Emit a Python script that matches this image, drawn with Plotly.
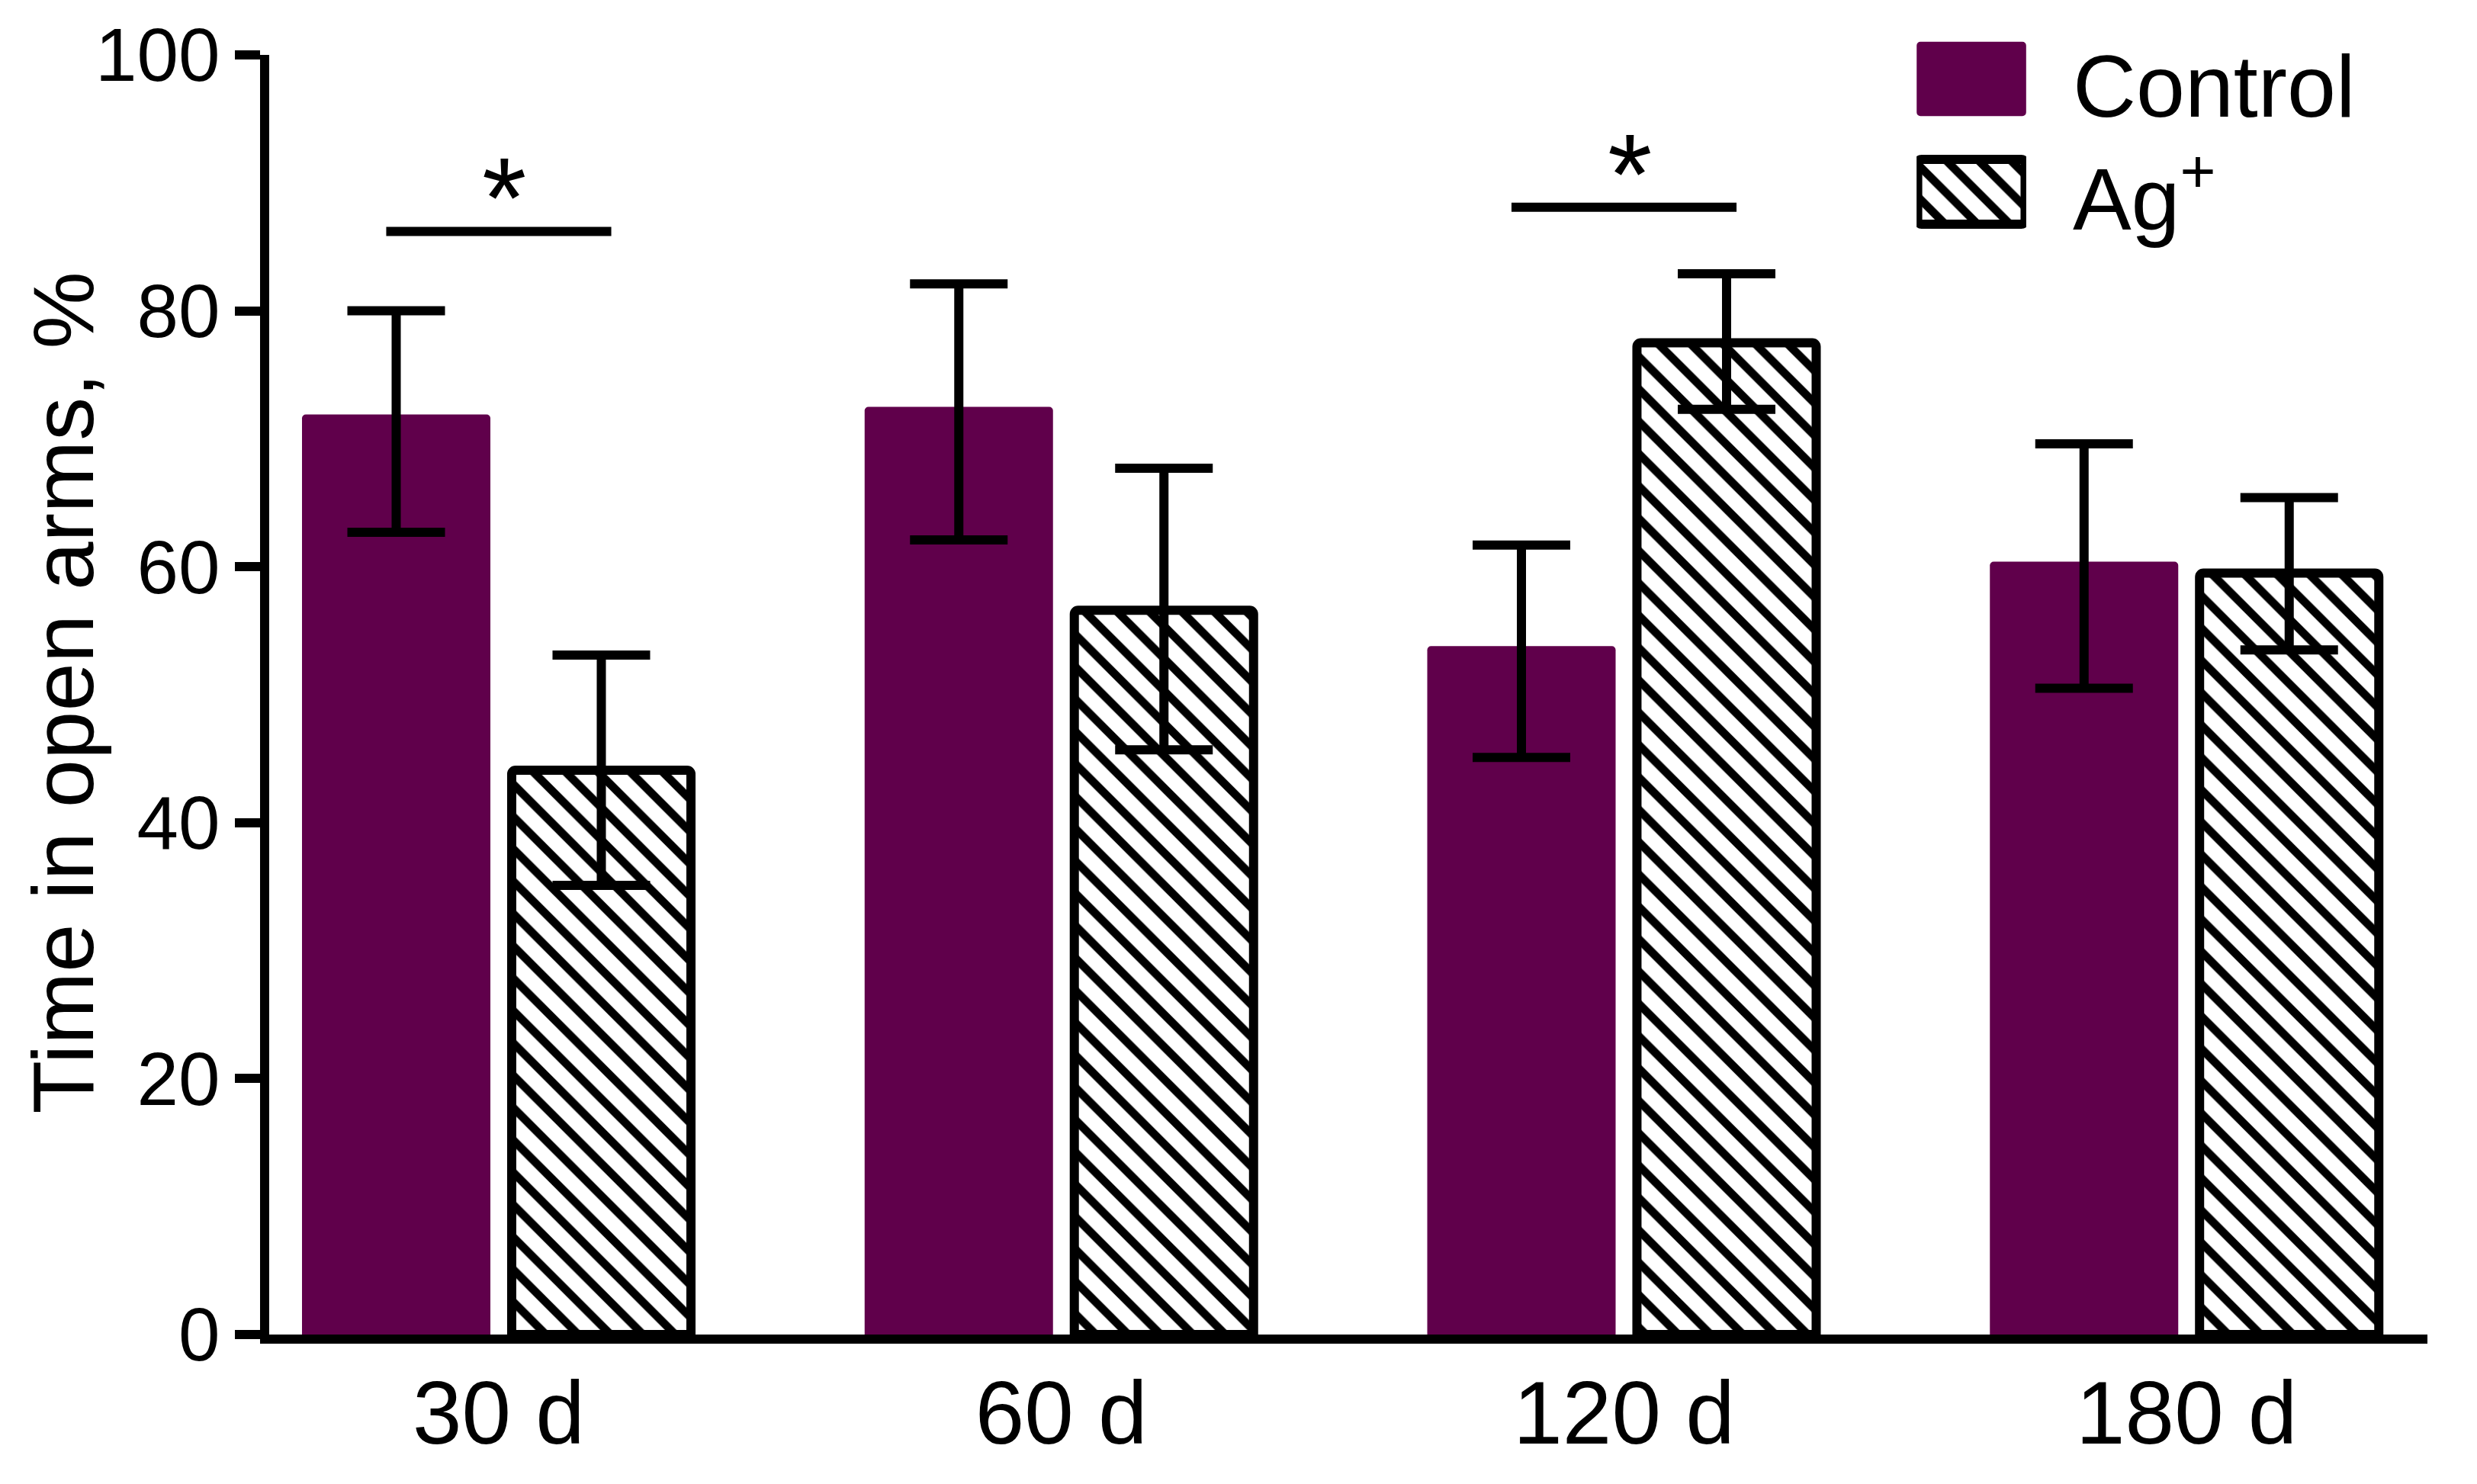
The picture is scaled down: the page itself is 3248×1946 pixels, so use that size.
import plotly.graph_objects as go

# ---------------- data ----------------
categories = ["30 d", "60 d", "120 d", "180 d"]

control_mean = [71.9, 72.5, 53.8, 60.4]
control_err_plus = [8.1, 9.6, 7.9, 9.2]
control_err_minus = [9.2, 10.4, 8.7, 9.9]

ag_mean = [44.1, 56.6, 77.5, 59.5]
ag_err_plus = [9.0, 11.1, 5.4, 5.9]
ag_err_minus = [9.0, 10.9, 5.2, 6.0]

sig_categories = ["30 d", "120 d"]
sig_level = [86.2, 88.1]
sig_label = ["*", "*"]

legend_labels = ["Control", "Ag<sup>+</sup>"]

y_ticks = [0, 20, 40, 60, 80, 100]
y_title = "Time in open arms, %"

# ---------------- style ----------------
PURPLE = "#60004B"
FONT = "Liberation Sans, Arial, sans-serif"
LW = 12
BODY = 8                       # default page body margin
W, H = 3248 - 2 * BODY, 1946 - 2 * BODY
M_L, M_R, M_T, M_B = 345, 57, 32, 188
PAPER_H = H - M_T - M_B
PLOT_BOTTOM = H - M_B

hatch = dict(shape="\\", fillmode="replace", fgcolor="black", fgopacity=1,
             bgcolor="white", size=30, solidity=0.36)

fig = go.Figure()

fig.add_trace(go.Bar(
    x=categories, y=control_mean, name="Control",
    width=0.3348, offset=-0.3497,
    marker=dict(color=PURPLE, line=dict(width=0)),
    error_y=dict(type="data", symmetric=False, array=control_err_plus,
                 arrayminus=control_err_minus, color="black",
                 thickness=LW, width=64),
    showlegend=False,
))
fig.add_trace(go.Bar(
    x=categories, y=ag_mean, name="Ag+",
    width=0.3186, offset=0.0230,
    marker=dict(color="white", line=dict(color="black", width=LW), pattern=hatch),
    error_y=dict(type="data", symmetric=False, array=ag_err_plus,
                 arrayminus=ag_err_minus, color="black",
                 thickness=LW, width=64),
    showlegend=False,
))

# legend keys drawn as bars in a small subplot
fig.add_trace(go.Bar(
    y=[1], x=[1], base=[0], orientation="h", width=0.66,
    marker=dict(color=PURPLE, line=dict(width=0)),
    xaxis="x2", yaxis="y2", showlegend=False, hoverinfo="skip",
))
fig.add_trace(go.Bar(
    y=[0], x=[0.98], base=[0.01], orientation="h", width=0.575,
    marker=dict(color="white", line=dict(color="black", width=LW), pattern=hatch),
    xaxis="x2", yaxis="y2", showlegend=False, hoverinfo="skip",
))

# significance bars and asterisks
for cat, lvl, lab in zip(sig_categories, sig_level, sig_label):
    i = categories.index(cat)
    fig.add_shape(type="line", xref="x", yref="y",
                  x0=i - 0.2, x1=i + 0.2, y0=lvl, y1=lvl,
                  line=dict(color="black", width=LW))
    fig.add_annotation(x=i + 0.01, y=lvl + 4.0, xref="x", yref="y",
                       text=lab, showarrow=False, yanchor="middle",
                       yshift=-24,
                       font=dict(family=FONT, size=150, color="black"))

main_top = (PLOT_BOTTOM - 64) / PAPER_H

# y-axis title as a rotated annotation (sits closer to the tick labels)
fig.add_annotation(
    text=y_title, textangle=-90, showarrow=False,
    xref="paper", yref="paper", x=0, xanchor="right", xshift=-205,
    y=(PLOT_BOTTOM - (908 - BODY)) / PAPER_H, yanchor="middle",
    font=dict(family=FONT, size=114, color="black"),
)

fig.update_layout(
    width=W, height=H,
    margin=dict(l=M_L, r=M_R, t=M_T, b=M_B, autoexpand=False),
    paper_bgcolor="white", plot_bgcolor="white",
    barmode="overlay",
    barcornerradius=5,
    font=dict(family=FONT, color="black"),
    xaxis=dict(
        type="category", categoryorder="array", categoryarray=categories,
        range=[-0.408, 3.428], domain=[0, 1], anchor="y", automargin=False,
        showline=True, linewidth=LW, linecolor="black",
        ticks="", showgrid=False, zeroline=False,
        ticklabelstandoff=-8,
        tickfont=dict(family=FONT, size=116, color="black"),
    ),
    yaxis=dict(
        range=[0, 100], domain=[0, main_top], anchor="x", automargin=False,
        tickvals=y_ticks, ticks="outside", ticklen=33, tickwidth=LW, tickcolor="black",
        showline=True, linewidth=LW, linecolor="black",
        showgrid=False, zeroline=False,
        tickfont=dict(family=FONT, size=98, color="black"),
    ),
    xaxis2=dict(domain=[0.7633, 0.8141], range=[0, 1], anchor="y2", visible=False,
                automargin=False),
    yaxis2=dict(domain=[0.8417, 0.99748], range=[-0.4, 1.4], anchor="x2",
                side="right", tickvals=[1, 0], ticktext=legend_labels,
                showline=False, showgrid=False, zeroline=False, ticks="",
                ticklabelstandoff=60, ticklabelshift=9, automargin=False,
                tickfont=dict(family=FONT, size=115, color="black")),
)

fig.write_html("out.html")
